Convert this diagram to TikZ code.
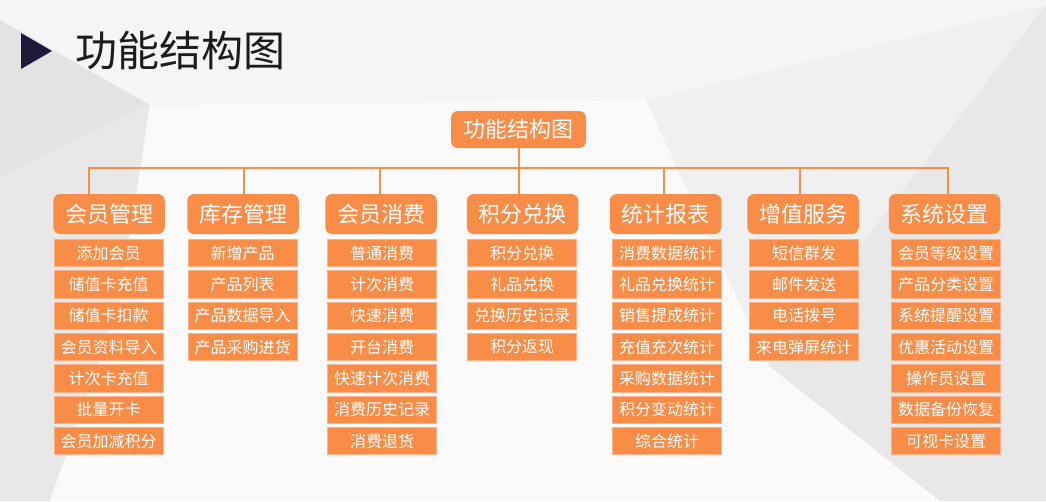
\documentclass[tikz,border=0pt]{standalone}
\usepackage{fontspec}
\setmainfont{Noto Sans CJK SC}
\definecolor{org}{HTML}{F98C47}
\definecolor{orgline}{HTML}{FBB28A}
\definecolor{conncol}{HTML}{F78E4D}
\definecolor{titlecol}{HTML}{1C1C1C}
\definecolor{tri}{HTML}{1E1B3A}
\begin{document}
\begin{tikzpicture}[x=1pt,y=-1pt,
  cat/.style={fill=org,rounded corners=7pt,minimum width=111.5pt,minimum height=40pt,inner sep=0pt,text=white,font=\fontsize{22}{22}\selectfont},
  sub/.style={fill=org,draw=orgline,line width=0.8pt,minimum width=109pt,minimum height=27.5pt,inner sep=0pt,text=white,font=\fontsize{16}{16}\selectfont},
  conn/.style={draw=conncol,line width=2pt}]
% background
\fill[black!5] (0,0) rectangle (1046,501);
\useasboundingbox (0,0) rectangle (1046,501);
\fill[black!4] (0,0) -- (1046,0) -- (1046,5) -- (646,100) -- (150,105) -- (0,20) -- cycle;
\fill[black!11] (0,20) -- (150,105) -- (0,177) -- cycle;
\fill[black!9] (0,177) -- (150,105) -- (120,300) -- (50,501) -- (0,501) -- cycle;
\fill[black!2] (150,105) -- (646,100) -- (768,365) -- (940,501) -- (50,501) -- (120,300) -- cycle;
\fill[black!6] (646,100) -- (1046,5) -- (768,365) -- cycle;
\fill[black!9] (1046,5) -- (1046,501) -- (940,501) -- (768,365) -- cycle;
% title
\fill[tri] (21,33) -- (21,69) -- (52,51) -- cycle;
\node[anchor=west,inner sep=0pt,text=titlecol,font=\fontsize{42}{42}\selectfont] (title) at (75,51) {功能结构图};
% root
\node[cat,minimum width=135pt,minimum height=37pt] (root) at (518.5,129.5) {功能结构图};
% categories
\node[cat] (c1) at (109,214) {会员管理};
\node[cat] (c2) at (243,214) {库存管理};
\node[cat] (c3) at (381,214) {会员消费};
\node[cat] (c4) at (522.5,214) {积分兑换};
\node[cat] (c5) at (665.5,214) {统计报表};
\node[cat] (c6) at (803,214) {增值服务};
\node[cat] (c7) at (944.5,214) {系统设置};
% connectors
\coordinate (t1) at (89,168);
\coordinate (t2) at (244,168);
\coordinate (t3) at (380,168);
\coordinate (t4) at (519,168);
\coordinate (t5) at (664,168);
\coordinate (t6) at (800,168);
\coordinate (t7) at (948,168);
\draw[conn] (root.south) -- (root.south |- t4);
\draw[conn] (t1 |- c1.north) -- (t1) -- (t7) -- (t7 |- c7.north);
\foreach \i in {2,...,6} {\draw[conn] (t\i) -- (t\i |- c\i.north);}
% sub items
\foreach \t [count=\k] in {添加会员,储值卡充值,储值卡扣款,会员资料导入,计次卡充值,批量开卡,会员加减积分}
  {\node[sub] (c1s\k) at (108.5,{253+31.33*(\k-1)}) {\t};}
\foreach \t [count=\k] in {新增产品,产品列表,产品数据导入,产品采购进货}
  {\node[sub] (c2s\k) at (242.5,{253+31.33*(\k-1)}) {\t};}
\foreach \t [count=\k] in {普通消费,计次消费,快速消费,开台消费,快速计次消费,消费历史记录,消费退货}
  {\node[sub] (c3s\k) at (382,{253+31.33*(\k-1)}) {\t};}
\foreach \t [count=\k] in {积分兑换,礼品兑换,兑换历史记录,积分返现}
  {\node[sub] (c4s\k) at (522,{253+31.33*(\k-1)}) {\t};}
\foreach \t [count=\k] in {消费数据统计,礼品兑换统计,销售提成统计,充值充次统计,采购数据统计,积分变动统计,综合统计}
  {\node[sub] (c5s\k) at (667,{253+31.33*(\k-1)}) {\t};}
\foreach \t [count=\k] in {短信群发,邮件发送,电话拨号,来电弹屏统计}
  {\node[sub] (c6s\k) at (804,{253+31.33*(\k-1)}) {\t};}
\foreach \t [count=\k] in {会员等级设置,产品分类设置,系统提醒设置,优惠活动设置,操作员设置,数据备份恢复,可视卡设置}
  {\node[sub] (c7s\k) at (946,{253+31.33*(\k-1)}) {\t};}
\end{tikzpicture}
\end{document}
